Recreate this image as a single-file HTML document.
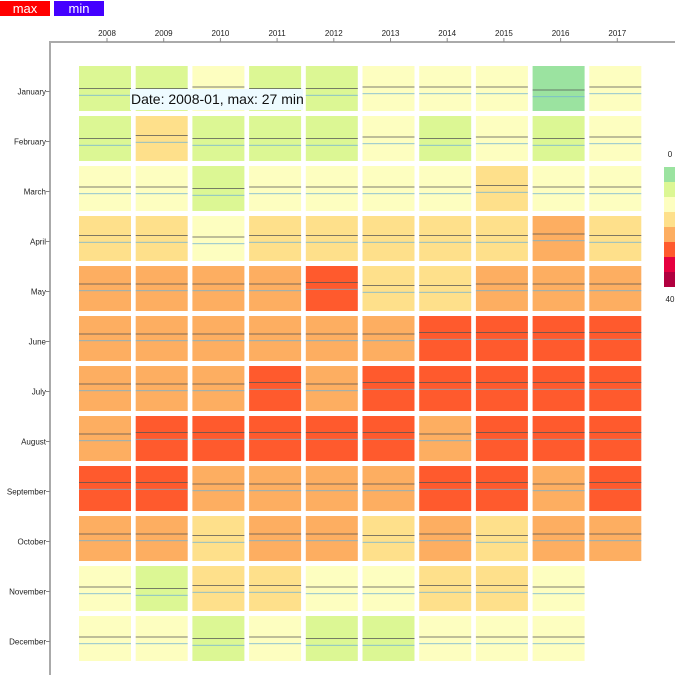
<!DOCTYPE html>
<html><head><meta charset="utf-8"><style>
body{margin:0;background:#fff;font-family:"Liberation Sans",sans-serif}
#wrap{position:relative;width:697px;height:675px;overflow:hidden}
.btn{position:absolute;top:1px;height:15px;width:50px;color:#fff;font-size:13px;text-align:center;line-height:15px}
#tip{position:absolute;left:130px;top:89px;width:172px;height:21px;background:#eefbff;font-size:14px;line-height:21px;padding-left:1px;color:#111;white-space:nowrap;overflow:hidden}
</style></head><body>
<div id="wrap">
<div class="btn" style="left:0;background:#f00">max</div>
<div class="btn" style="left:54px;background:#4400ff">min</div>
<svg id="svg" width="697" height="675" style="position:absolute;left:0;top:0"></svg>
<div id="tip">Date: 2008-01, max: 27 min: 8</div>
</div>
<script>
const years=["2008","2009","2010","2011","2012","2013","2014","2015","2016","2017"];
const months=["January","February","March","April","May","June","July","August","September","October","November","December"];
const means=[
[7.5,7.5,12.5,7.5,7.5,12.5,12.5,12.5,2.5,12.5],
[7.5,17.5,7.5,7.5,7.5,12.5,7.5,12.5,7.5,12.5],
[12.5,12.5,7.5,12.5,12.5,12.5,12.5,17.5,12.5,12.5],
[17.5,17.5,12.5,17.5,17.5,17.5,17.5,17.5,22.5,17.5],
[22.5,22.5,22.5,22.5,27.5,17.5,17.5,22.5,22.5,22.5],
[22.5,22.5,22.5,22.5,22.5,22.5,27.5,27.5,27.5,27.5],
[22.5,22.5,22.5,27.5,22.5,27.5,27.5,27.5,27.5,27.5],
[22.5,27.5,27.5,27.5,27.5,27.5,22.5,27.5,27.5,27.5],
[27.5,27.5,22.5,22.5,22.5,22.5,27.5,27.5,22.5,27.5],
[22.5,22.5,17.5,22.5,22.5,17.5,22.5,17.5,22.5,22.5],
[12.5,7.5,17.5,17.5,12.5,12.5,17.5,17.5,12.5],
[12.5,12.5,7.5,12.5,7.5,7.5,12.5,12.5,12.5]];
const legendTicks=["0","40"];
const colors=["#9be3a0","#dcf794","#fdfec0","#fee08b","#fdae61","#ff5a2d","#e6003f","#b1003f"];
const NS="http://www.w3.org/2000/svg";
const svg=document.getElementById('svg');
function mk(t,a,p){const e=document.createElementNS(NS,t);for(const k in a)e.setAttribute(k,a[k]);(p||svg).appendChild(e);return e;}
const xCenter=i=>105+56.7*i, yCenter=j=>88.5+50*j, cw=52, ch=45;
const colorOf=v=>colors[Math.max(0,Math.min(7,Math.floor(v/5)))];
let a=mk('path',{d:'M50,675V42H675',fill:'none',stroke:'#aaa','stroke-width':2});

years.forEach((y,i)=>{const x=xCenter(i)+2;
 let t=mk('line',{x1:x,x2:x,y1:38,y2:42,stroke:'#888'});
 let l=mk('text',{x:x,y:36,'font-size':8,'text-anchor':'middle',fill:'#222'});l.textContent=y;});
months.forEach((m,j)=>{const y=yCenter(j)+3;
 let t=mk('line',{x1:46,x2:50,y1:y,y2:y,stroke:'#888'});
 let l=mk('text',{x:46,y:y+3,'font-size':8,'text-anchor':'end',fill:'#222'});l.textContent=m;});
means.forEach((row,j)=>row.forEach((v,i)=>{
 const x=xCenter(i)-cw/2,y=yCenter(j)-ch/2;
 let r=mk('rect',{x:x,y:y,width:cw,height:ch,fill:colorOf(v)});
 
 const ym=y+ch*(0.45-(v-15)/150), yn=ym+ch*0.15;
 let p1=mk('line',{x1:x,x2:x+cw,y1:ym,y2:ym,stroke:'#555','stroke-width':0.8});
 
 let p2=mk('line',{x1:x,x2:x+cw,y1:yn,y2:yn,stroke:'#6fb3d6','stroke-width':0.8});
 
}));
colors.forEach((c,k)=>{let r=mk('rect',{x:664,y:167+15*k,width:11,height:15,fill:c});});
legendTicks.forEach((t,k)=>{let l=mk('text',{x:670,y:k?302:157,'font-size':8,'text-anchor':'middle',fill:'#222'});l.textContent=t;});
</script>
</body></html>
